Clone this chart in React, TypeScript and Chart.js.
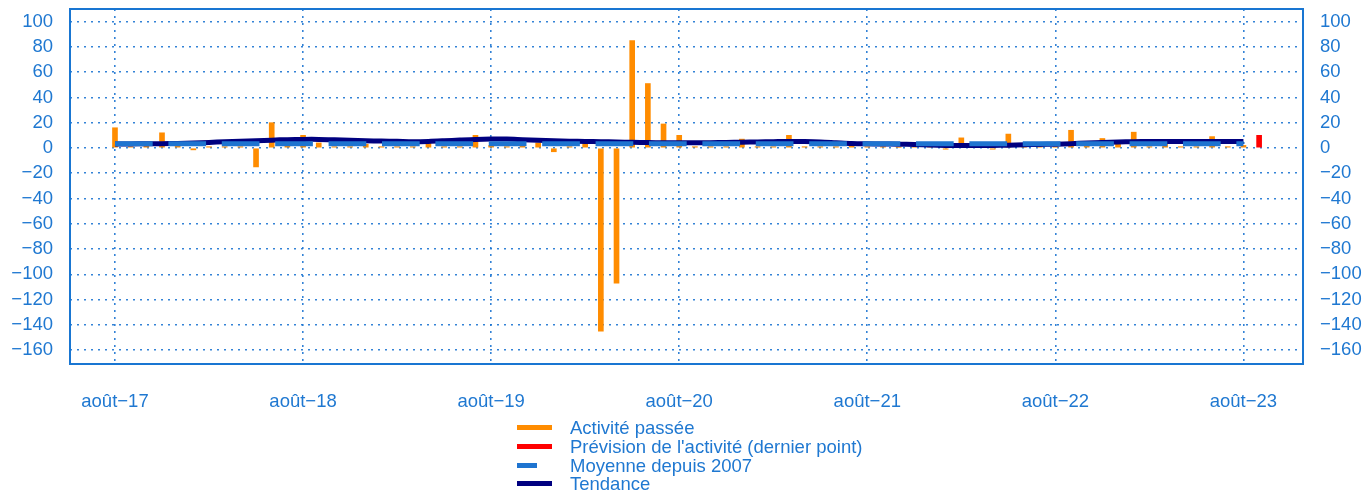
import React, { useEffect, useRef } from "react";
import { Chart, registerables } from "chart.js";

Chart.register(...registerables);

// Month index 0 = août 2017, 72 = août 2023, 73 = sept. 2023 (forecast)
const xTickIndex = [0, 12, 24, 36, 48, 60, 72];
const xTickLabels = ["août−17", "août−18", "août−19", "août−20", "août−21", "août−22", "août−23"];
const yTickValues = [-160, -140, -120, -100, -80, -60, -40, -20, 0, 20, 40, 60, 80, 100];

const activitePassee = [
  16, 1, 1.5, 12, 2, -1.5, 1, 1, 1, -15, 20, 3,
  10, 4, 1, 1, 3, 1, 1, 1, 4, 1, 1, 10,
  2, 1, 5, 4, -3, 1, 4, -145, -107, 85, 51, 19,
  10, 1, 1, 1, 7, 1, 1, 10, 1, 1, 1, 3,
  1, 1, 0.5, 1, 1, -1, 8, 1, -1, 11, 1, 1,
  1, 14, 2, 7.5, 3, 12.5, 1, 3, 1, 1, 9, 1,
  2,
];
const previsionIndex = [73];
const previsionValues = [10];
const moyenneIndex = [0, 72];
const moyenneValues = [3.4, 3.4];
const tendance = [
  3.2, 3.2, 3.3, 3.4, 3.6, 4.0, 4.4, 4.9, 5.4, 5.8, 6.2, 6.6,
  6.8, 6.8, 6.5, 6.1, 5.7, 5.5, 5.3, 5.0, 5.2, 5.7, 6.3, 6.8,
  7.0, 7.0, 6.6, 6.2, 5.8, 5.4, 5.2, 5.0, 4.7, 4.5, 4.3, 4.1,
  4.1, 4.1, 4.2, 4.4, 4.6, 4.8, 5.0, 5.2, 5.1, 4.8, 4.2, 3.6,
  3.3, 3.1, 3.0, 2.7, 2.3, 2.0, 1.9, 1.9, 2.0, 2.2, 2.5, 2.8,
  3.0, 3.4, 3.9, 4.4, 4.7, 5.0, 5.1, 5.2, 5.2, 5.2, 5.2, 5.2,
  5.2,
];

const legendLabels = [
  "Activité passée",
  "Prévision de l'activité (dernier point)",
  "Moyenne depuis 2007",
  "Tendance",
];
const legendColors = ["#FF8C00", "#FF0000", "#1E74D0", "#000080"];

const BLUE_TEXT = "#1F78D1";
const AXIS_BLUE = "#1976D2";
const GRID_BLUE = "rgba(30,118,210,0.9)";
const FONT = "'Liberation Sans', Arial, sans-serif";
const FONT_SIZE = 18.5;

const fmt = (v: number) => (v < 0 ? "\u2212" + Math.abs(v) : String(v));

const framePlugin = {
  id: "frame",
  afterDatasetsDraw(chart: any) {
    const { ctx, chartArea: a } = chart;
    ctx.save();
    ctx.strokeStyle = AXIS_BLUE;
    ctx.lineWidth = 2;
    ctx.setLineDash([]);
    ctx.strokeRect(a.left, a.top, a.right - a.left, a.bottom - a.top);
    ctx.restore();
  },
};

export default function App() {
  const ref = useRef<HTMLCanvasElement | null>(null);

  useEffect(() => {
    if (!ref.current) return;
    const chart = new Chart(ref.current, {
      type: "bar",
      data: {
        datasets: [
          {
            type: "line",
            label: legendLabels[2],
            data: moyenneIndex.map((x, i) => ({ x, y: moyenneValues[i] })),
            borderColor: legendColors[2],
            borderWidth: 5,
            borderDash: [37.7, 15.7],
            borderCapStyle: "butt",
            pointRadius: 0,
            order: 0,
            yAxisID: "y",
          } as any,
          {
            type: "line",
            label: legendLabels[3],
            data: tendance.map((y, x) => ({ x, y })),
            borderColor: legendColors[3],
            borderWidth: 5,
            pointRadius: 0,
            tension: 0.3,
            order: 1,
            yAxisID: "y",
          } as any,
          {
            type: "bar",
            label: legendLabels[0],
            data: activitePassee.map((y, x) => ({ x, y })),
            backgroundColor: legendColors[0],
            barThickness: 5,
            grouped: false,
            order: 2,
            yAxisID: "y",
          } as any,
          {
            type: "bar",
            label: legendLabels[1],
            data: previsionIndex.map((x, i) => ({ x, y: previsionValues[i] })),
            backgroundColor: legendColors[1],
            barThickness: 5,
            grouped: false,
            order: 2,
            yAxisID: "y",
          } as any,
        ],
      },
      options: {
        animation: false,
        responsive: false,
        maintainAspectRatio: false,
        layout: { padding: { top: 9, left: 0, right: 0, bottom: 0 } },
        plugins: {
          legend: { display: false },
          tooltip: { enabled: false },
          title: { display: false },
        },
        scales: {
          x: {
            type: "linear",
            min: -2.87,
            max: 75.8,
            offset: false,
            afterBuildTicks: (s: any) => {
              s.ticks = xTickIndex.map((v) => ({ value: v }));
            },
            afterFit: (s: any) => {
              s.height = 56;
              s.paddingLeft = 0;
              s.paddingRight = 0;
            },
            grid: {
              display: true,
              offset: false,
              color: GRID_BLUE,
              lineWidth: 1.6,
              drawTicks: false,
            },
            border: { display: false, dash: [2, 5] },
            ticks: {
              padding: 27,
              color: BLUE_TEXT,
              font: { family: FONT, size: FONT_SIZE },
              maxRotation: 0,
              autoSkip: false,
              callback: (_v: any, i: number) => xTickLabels[i],
            },
          },
          y: {
            type: "linear",
            position: "left",
            min: -171,
            max: 110,
            afterBuildTicks: (s: any) => {
              s.ticks = yTickValues.map((v) => ({ value: v }));
            },
            afterFit: (s: any) => {
              s.width = 70;
              s.paddingTop = 0;
              s.paddingBottom = 0;
            },
            grid: {
              color: GRID_BLUE,
              lineWidth: 1.6,
              drawTicks: false,
            },
            border: { display: false, dash: [2, 5] },
            ticks: {
              padding: 17,
              color: BLUE_TEXT,
              font: { family: FONT, size: FONT_SIZE },
              autoSkip: false,
              callback: (v: any) => fmt(Number(v)),
            },
          },
          y2: {
            type: "linear",
            position: "right",
            min: -171,
            max: 110,
            afterBuildTicks: (s: any) => {
              s.ticks = yTickValues.map((v) => ({ value: v }));
            },
            afterFit: (s: any) => {
              s.width = 62;
              s.paddingTop = 0;
              s.paddingBottom = 0;
            },
            grid: { display: false, drawTicks: false },
            border: { display: false },
            ticks: {
              padding: 17,
              color: BLUE_TEXT,
              font: { family: FONT, size: FONT_SIZE },
              autoSkip: false,
              callback: (v: any) => fmt(Number(v)),
            },
          },
        },
      } as any,
      plugins: [framePlugin],
    });
    return () => chart.destroy();
  }, []);

  const swatchWidths = [35, 35, 20, 35];
  const rowTop = 419.4;
  const rowStep = 18.6;

  return (
    <div
      style={{
        position: "absolute",
        left: 0,
        top: 0,
        width: 1365,
        height: 490,
        overflow: "hidden",
        background: "#ffffff",
      }}
    >
      <canvas
        ref={ref}
        width={1365}
        height={420}
        style={{ position: "absolute", left: 0, top: 0, width: 1365, height: 420 }}
      />
      {legendLabels.map((label, i) => (
        <div key={label}>
          <div
            style={{
              position: "absolute",
              left: 517,
              top: rowTop + rowStep * i + 6,
              width: swatchWidths[i],
              height: 5,
              background: legendColors[i],
            }}
          />
          <div
            style={{
              position: "absolute",
              left: 570,
              top: rowTop + rowStep * i,
              height: rowStep,
              lineHeight: FONT_SIZE + "px",
              fontFamily: FONT,
              fontSize: FONT_SIZE,
              color: BLUE_TEXT,
              whiteSpace: "nowrap",
            }}
          >
            {label}
          </div>
        </div>
      ))}
    </div>
  );
}
